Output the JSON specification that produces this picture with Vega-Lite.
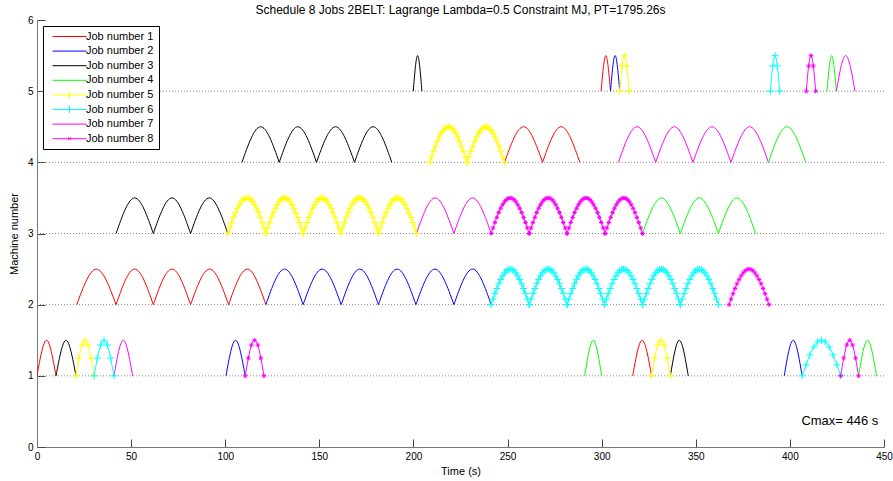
{
"$schema": "https://vega.github.io/schema/vega-lite/v6.json",
"width": 847, "height": 427,
"autosize": "none",
"padding": {"left": 37, "top": 20, "right": 9, "bottom": 34},
"background": "#ffffff",
"title": {"text": "Schedule 8 Jobs 2BELT: Lagrange Lambda=0.5 Constraint MJ, PT=1795.26s", "fontSize": 12, "fontWeight": "normal", "font": "Liberation Sans", "color": "#000000", "offset": -2, "anchor": "middle", "frame": "group"},
"config": {
 "view": {"stroke": null},
 "font": "Liberation Sans",
 "axis": {"domainColor": "#777777", "domainWidth": 1, "tickColor": "#444444", "tickSize": -8, "labelPadding": 12, "labelFontSize": 10, "labelColor": "#000000", "labelFont": "Liberation Sans", "titleFont": "Liberation Sans", "titleFontSize": 11, "titleFontWeight": "normal", "titleColor": "#000000", "grid": false, "labelFlush": false}
},
"data": {"values": [
{"a":1,"j":1,"x":0,"y":1},{"a":1,"j":1,"x":5.05,"y":1.5},{"a":1,"j":1,"x":10.1,"y":1},
{"a":2,"j":3,"x":10.1,"y":1},{"a":2,"j":3,"x":15.4,"y":1.5},{"a":2,"j":3,"x":20.7,"y":1},
{"a":3,"j":5,"x":20.7,"y":1},{"a":3,"j":5,"x":22.3,"y":1.25},{"a":3,"j":5,"x":23.9,"y":1.433},{"a":3,"j":5,"x":25.5,"y":1.5},{"a":3,"j":5,"x":27.1,"y":1.433},{"a":3,"j":5,"x":28.7,"y":1.25},{"a":3,"j":5,"x":30.3,"y":1},
{"a":4,"j":6,"x":30.3,"y":1},{"a":4,"j":6,"x":32.1,"y":1.25},{"a":4,"j":6,"x":33.8,"y":1.433},{"a":4,"j":6,"x":35.6,"y":1.5},{"a":4,"j":6,"x":37.4,"y":1.433},{"a":4,"j":6,"x":39.1,"y":1.25},{"a":4,"j":6,"x":40.9,"y":1},
{"a":5,"j":7,"x":40.9,"y":1},{"a":5,"j":7,"x":45.85,"y":1.5},{"a":5,"j":7,"x":50.8,"y":1},
{"a":6,"j":2,"x":100.4,"y":1},{"a":6,"j":2,"x":105.5,"y":1.5},{"a":6,"j":2,"x":110.6,"y":1},
{"a":7,"j":8,"x":110.6,"y":1},{"a":7,"j":8,"x":112.3,"y":1.25},{"a":7,"j":8,"x":113.9,"y":1.433},{"a":7,"j":8,"x":115.6,"y":1.5},{"a":7,"j":8,"x":117.3,"y":1.433},{"a":7,"j":8,"x":118.9,"y":1.25},{"a":7,"j":8,"x":120.6,"y":1},
{"a":8,"j":4,"x":291,"y":1},{"a":8,"j":4,"x":295.5,"y":1.5},{"a":8,"j":4,"x":300,"y":1},
{"a":9,"j":1,"x":316.5,"y":1},{"a":9,"j":1,"x":321.5,"y":1.5},{"a":9,"j":1,"x":326.5,"y":1},
{"a":10,"j":5,"x":326.5,"y":1},{"a":10,"j":5,"x":328.2,"y":1.25},{"a":10,"j":5,"x":329.8,"y":1.433},{"a":10,"j":5,"x":331.5,"y":1.5},{"a":10,"j":5,"x":333.2,"y":1.433},{"a":10,"j":5,"x":334.8,"y":1.25},{"a":10,"j":5,"x":336.5,"y":1},
{"a":11,"j":3,"x":336.5,"y":1},{"a":11,"j":3,"x":341.25,"y":1.5},{"a":11,"j":3,"x":346,"y":1},
{"a":12,"j":2,"x":397,"y":1},{"a":12,"j":2,"x":401.75,"y":1.5},{"a":12,"j":2,"x":406.5,"y":1},
{"a":13,"j":6,"x":406.5,"y":1},{"a":13,"j":6,"x":408.6,"y":1.155},{"a":13,"j":6,"x":410.6,"y":1.294},{"a":13,"j":6,"x":412.7,"y":1.405},{"a":13,"j":6,"x":414.7,"y":1.476},{"a":13,"j":6,"x":416.8,"y":1.5},{"a":13,"j":6,"x":418.8,"y":1.476},{"a":13,"j":6,"x":420.9,"y":1.405},{"a":13,"j":6,"x":422.9,"y":1.294},{"a":13,"j":6,"x":425.0,"y":1.155},{"a":13,"j":6,"x":427.0,"y":1},
{"a":14,"j":8,"x":427,"y":1},{"a":14,"j":8,"x":428.6,"y":1.25},{"a":14,"j":8,"x":430.2,"y":1.433},{"a":14,"j":8,"x":431.8,"y":1.5},{"a":14,"j":8,"x":433.3,"y":1.433},{"a":14,"j":8,"x":434.9,"y":1.25},{"a":14,"j":8,"x":436.5,"y":1},
{"a":15,"j":4,"x":436.5,"y":1},{"a":15,"j":4,"x":441.25,"y":1.5},{"a":15,"j":4,"x":446,"y":1},
{"a":16,"j":1,"x":21.1,"y":2},{"a":16,"j":1,"x":31.55,"y":2.5},{"a":16,"j":1,"x":42,"y":2},
{"a":17,"j":1,"x":42,"y":2},{"a":17,"j":1,"x":51.9,"y":2.5},{"a":17,"j":1,"x":61.8,"y":2},
{"a":18,"j":1,"x":61.8,"y":2},{"a":18,"j":1,"x":71.7,"y":2.5},{"a":18,"j":1,"x":81.6,"y":2},
{"a":19,"j":1,"x":81.6,"y":2},{"a":19,"j":1,"x":91.7,"y":2.5},{"a":19,"j":1,"x":101.8,"y":2},
{"a":20,"j":1,"x":101.8,"y":2},{"a":20,"j":1,"x":111.7,"y":2.5},{"a":20,"j":1,"x":121.6,"y":2},
{"a":21,"j":2,"x":121.6,"y":2},{"a":21,"j":2,"x":131.5,"y":2.5},{"a":21,"j":2,"x":141.4,"y":2},
{"a":22,"j":2,"x":141.4,"y":2},{"a":22,"j":2,"x":151.5,"y":2.5},{"a":22,"j":2,"x":161.6,"y":2},
{"a":23,"j":2,"x":161.6,"y":2},{"a":23,"j":2,"x":171.5,"y":2.5},{"a":23,"j":2,"x":181.4,"y":2},
{"a":24,"j":2,"x":181.4,"y":2},{"a":24,"j":2,"x":191.35,"y":2.5},{"a":24,"j":2,"x":201.3,"y":2},
{"a":25,"j":2,"x":201.3,"y":2},{"a":25,"j":2,"x":211.4,"y":2.5},{"a":25,"j":2,"x":221.5,"y":2},
{"a":26,"j":2,"x":221.5,"y":2},{"a":26,"j":2,"x":231.4,"y":2.5},{"a":26,"j":2,"x":241.3,"y":2},
{"a":27,"j":6,"x":241.3,"y":2},{"a":27,"j":6,"x":242.3,"y":2.078},{"a":27,"j":6,"x":243.3,"y":2.155},{"a":27,"j":6,"x":244.3,"y":2.227},{"a":27,"j":6,"x":245.3,"y":2.294},{"a":27,"j":6,"x":246.35,"y":2.354},{"a":27,"j":6,"x":247.4,"y":2.405},{"a":27,"j":6,"x":248.4,"y":2.446},{"a":27,"j":6,"x":249.4,"y":2.476},{"a":27,"j":6,"x":250.4,"y":2.494},{"a":27,"j":6,"x":251.4,"y":2.5},{"a":27,"j":6,"x":252.4,"y":2.494},{"a":27,"j":6,"x":253.4,"y":2.476},{"a":27,"j":6,"x":254.4,"y":2.446},{"a":27,"j":6,"x":255.4,"y":2.405},{"a":27,"j":6,"x":256.45,"y":2.354},{"a":27,"j":6,"x":257.5,"y":2.294},{"a":27,"j":6,"x":258.5,"y":2.227},{"a":27,"j":6,"x":259.5,"y":2.155},{"a":27,"j":6,"x":260.5,"y":2.078},{"a":27,"j":6,"x":261.5,"y":2},
{"a":28,"j":6,"x":261.5,"y":2},{"a":28,"j":6,"x":262.5,"y":2.078},{"a":28,"j":6,"x":263.5,"y":2.155},{"a":28,"j":6,"x":264.5,"y":2.227},{"a":28,"j":6,"x":265.5,"y":2.294},{"a":28,"j":6,"x":266.5,"y":2.354},{"a":28,"j":6,"x":267.5,"y":2.405},{"a":28,"j":6,"x":268.5,"y":2.446},{"a":28,"j":6,"x":269.5,"y":2.476},{"a":28,"j":6,"x":270.55,"y":2.494},{"a":28,"j":6,"x":271.6,"y":2.5},{"a":28,"j":6,"x":272.6,"y":2.494},{"a":28,"j":6,"x":273.6,"y":2.476},{"a":28,"j":6,"x":274.6,"y":2.446},{"a":28,"j":6,"x":275.6,"y":2.405},{"a":28,"j":6,"x":276.6,"y":2.354},{"a":28,"j":6,"x":277.6,"y":2.294},{"a":28,"j":6,"x":278.6,"y":2.227},{"a":28,"j":6,"x":279.6,"y":2.155},{"a":28,"j":6,"x":280.6,"y":2.078},{"a":28,"j":6,"x":281.6,"y":2},
{"a":29,"j":6,"x":281.6,"y":2},{"a":29,"j":6,"x":282.6,"y":2.078},{"a":29,"j":6,"x":283.6,"y":2.155},{"a":29,"j":6,"x":284.6,"y":2.227},{"a":29,"j":6,"x":285.6,"y":2.294},{"a":29,"j":6,"x":286.6,"y":2.354},{"a":29,"j":6,"x":287.6,"y":2.405},{"a":29,"j":6,"x":288.6,"y":2.446},{"a":29,"j":6,"x":289.6,"y":2.476},{"a":29,"j":6,"x":290.6,"y":2.494},{"a":29,"j":6,"x":291.6,"y":2.5},{"a":29,"j":6,"x":292.55,"y":2.494},{"a":29,"j":6,"x":293.5,"y":2.476},{"a":29,"j":6,"x":294.5,"y":2.446},{"a":29,"j":6,"x":295.5,"y":2.405},{"a":29,"j":6,"x":296.5,"y":2.354},{"a":29,"j":6,"x":297.5,"y":2.294},{"a":29,"j":6,"x":298.5,"y":2.227},{"a":29,"j":6,"x":299.5,"y":2.155},{"a":29,"j":6,"x":300.5,"y":2.078},{"a":29,"j":6,"x":301.5,"y":2},
{"a":30,"j":6,"x":301.5,"y":2},{"a":30,"j":6,"x":302.5,"y":2.078},{"a":30,"j":6,"x":303.5,"y":2.155},{"a":30,"j":6,"x":304.5,"y":2.227},{"a":30,"j":6,"x":305.5,"y":2.294},{"a":30,"j":6,"x":306.55,"y":2.354},{"a":30,"j":6,"x":307.6,"y":2.405},{"a":30,"j":6,"x":308.6,"y":2.446},{"a":30,"j":6,"x":309.6,"y":2.476},{"a":30,"j":6,"x":310.6,"y":2.494},{"a":30,"j":6,"x":311.6,"y":2.5},{"a":30,"j":6,"x":312.6,"y":2.494},{"a":30,"j":6,"x":313.6,"y":2.476},{"a":30,"j":6,"x":314.6,"y":2.446},{"a":30,"j":6,"x":315.6,"y":2.405},{"a":30,"j":6,"x":316.65,"y":2.354},{"a":30,"j":6,"x":317.7,"y":2.294},{"a":30,"j":6,"x":318.7,"y":2.227},{"a":30,"j":6,"x":319.7,"y":2.155},{"a":30,"j":6,"x":320.7,"y":2.078},{"a":30,"j":6,"x":321.7,"y":2},
{"a":31,"j":6,"x":321.7,"y":2},{"a":31,"j":6,"x":322.7,"y":2.078},{"a":31,"j":6,"x":323.7,"y":2.155},{"a":31,"j":6,"x":324.7,"y":2.227},{"a":31,"j":6,"x":325.7,"y":2.294},{"a":31,"j":6,"x":326.7,"y":2.354},{"a":31,"j":6,"x":327.7,"y":2.405},{"a":31,"j":6,"x":328.7,"y":2.446},{"a":31,"j":6,"x":329.7,"y":2.476},{"a":31,"j":6,"x":330.75,"y":2.494},{"a":31,"j":6,"x":331.8,"y":2.5},{"a":31,"j":6,"x":332.8,"y":2.494},{"a":31,"j":6,"x":333.8,"y":2.476},{"a":31,"j":6,"x":334.8,"y":2.446},{"a":31,"j":6,"x":335.8,"y":2.405},{"a":31,"j":6,"x":336.8,"y":2.354},{"a":31,"j":6,"x":337.8,"y":2.294},{"a":31,"j":6,"x":338.8,"y":2.227},{"a":31,"j":6,"x":339.8,"y":2.155},{"a":31,"j":6,"x":340.8,"y":2.078},{"a":31,"j":6,"x":341.8,"y":2},
{"a":32,"j":6,"x":341.8,"y":2},{"a":32,"j":6,"x":342.8,"y":2.078},{"a":32,"j":6,"x":343.8,"y":2.155},{"a":32,"j":6,"x":344.8,"y":2.227},{"a":32,"j":6,"x":345.8,"y":2.294},{"a":32,"j":6,"x":346.85,"y":2.354},{"a":32,"j":6,"x":347.9,"y":2.405},{"a":32,"j":6,"x":348.9,"y":2.446},{"a":32,"j":6,"x":349.9,"y":2.476},{"a":32,"j":6,"x":350.9,"y":2.494},{"a":32,"j":6,"x":351.9,"y":2.5},{"a":32,"j":6,"x":352.9,"y":2.494},{"a":32,"j":6,"x":353.9,"y":2.476},{"a":32,"j":6,"x":354.9,"y":2.446},{"a":32,"j":6,"x":355.9,"y":2.405},{"a":32,"j":6,"x":356.95,"y":2.354},{"a":32,"j":6,"x":358.0,"y":2.294},{"a":32,"j":6,"x":359.0,"y":2.227},{"a":32,"j":6,"x":360.0,"y":2.155},{"a":32,"j":6,"x":361.0,"y":2.078},{"a":32,"j":6,"x":362.0,"y":2},
{"a":33,"j":8,"x":367.7,"y":2},{"a":33,"j":8,"x":368.75,"y":2.078},{"a":33,"j":8,"x":369.8,"y":2.155},{"a":33,"j":8,"x":370.85,"y":2.227},{"a":33,"j":8,"x":371.9,"y":2.294},{"a":33,"j":8,"x":373.0,"y":2.354},{"a":33,"j":8,"x":374.1,"y":2.405},{"a":33,"j":8,"x":375.15,"y":2.446},{"a":33,"j":8,"x":376.2,"y":2.476},{"a":33,"j":8,"x":377.25,"y":2.494},{"a":33,"j":8,"x":378.3,"y":2.5},{"a":33,"j":8,"x":379.35,"y":2.494},{"a":33,"j":8,"x":380.4,"y":2.476},{"a":33,"j":8,"x":381.45,"y":2.446},{"a":33,"j":8,"x":382.5,"y":2.405},{"a":33,"j":8,"x":383.6,"y":2.354},{"a":33,"j":8,"x":384.7,"y":2.294},{"a":33,"j":8,"x":385.75,"y":2.227},{"a":33,"j":8,"x":386.8,"y":2.155},{"a":33,"j":8,"x":387.85,"y":2.078},{"a":33,"j":8,"x":388.9,"y":2},
{"a":34,"j":3,"x":42,"y":3},{"a":34,"j":3,"x":51.9,"y":3.5},{"a":34,"j":3,"x":61.8,"y":3},
{"a":35,"j":3,"x":61.8,"y":3},{"a":35,"j":3,"x":71.7,"y":3.5},{"a":35,"j":3,"x":81.6,"y":3},
{"a":36,"j":3,"x":81.6,"y":3},{"a":36,"j":3,"x":91.5,"y":3.5},{"a":36,"j":3,"x":101.4,"y":3},
{"a":37,"j":5,"x":101.4,"y":3},{"a":37,"j":5,"x":102.4,"y":3.078},{"a":37,"j":5,"x":103.4,"y":3.155},{"a":37,"j":5,"x":104.4,"y":3.227},{"a":37,"j":5,"x":105.4,"y":3.294},{"a":37,"j":5,"x":106.45,"y":3.354},{"a":37,"j":5,"x":107.5,"y":3.405},{"a":37,"j":5,"x":108.5,"y":3.446},{"a":37,"j":5,"x":109.5,"y":3.476},{"a":37,"j":5,"x":110.5,"y":3.494},{"a":37,"j":5,"x":111.5,"y":3.5},{"a":37,"j":5,"x":112.5,"y":3.494},{"a":37,"j":5,"x":113.5,"y":3.476},{"a":37,"j":5,"x":114.5,"y":3.446},{"a":37,"j":5,"x":115.5,"y":3.405},{"a":37,"j":5,"x":116.55,"y":3.354},{"a":37,"j":5,"x":117.6,"y":3.294},{"a":37,"j":5,"x":118.6,"y":3.227},{"a":37,"j":5,"x":119.6,"y":3.155},{"a":37,"j":5,"x":120.6,"y":3.078},{"a":37,"j":5,"x":121.6,"y":3},
{"a":38,"j":5,"x":121.6,"y":3},{"a":38,"j":5,"x":122.6,"y":3.078},{"a":38,"j":5,"x":123.6,"y":3.155},{"a":38,"j":5,"x":124.6,"y":3.227},{"a":38,"j":5,"x":125.6,"y":3.294},{"a":38,"j":5,"x":126.55,"y":3.354},{"a":38,"j":5,"x":127.5,"y":3.405},{"a":38,"j":5,"x":128.5,"y":3.446},{"a":38,"j":5,"x":129.5,"y":3.476},{"a":38,"j":5,"x":130.5,"y":3.494},{"a":38,"j":5,"x":131.5,"y":3.5},{"a":38,"j":5,"x":132.5,"y":3.494},{"a":38,"j":5,"x":133.5,"y":3.476},{"a":38,"j":5,"x":134.5,"y":3.446},{"a":38,"j":5,"x":135.5,"y":3.405},{"a":38,"j":5,"x":136.45,"y":3.354},{"a":38,"j":5,"x":137.4,"y":3.294},{"a":38,"j":5,"x":138.4,"y":3.227},{"a":38,"j":5,"x":139.4,"y":3.155},{"a":38,"j":5,"x":140.4,"y":3.078},{"a":38,"j":5,"x":141.4,"y":3},
{"a":39,"j":5,"x":141.4,"y":3},{"a":39,"j":5,"x":142.4,"y":3.078},{"a":39,"j":5,"x":143.4,"y":3.155},{"a":39,"j":5,"x":144.4,"y":3.227},{"a":39,"j":5,"x":145.4,"y":3.294},{"a":39,"j":5,"x":146.4,"y":3.354},{"a":39,"j":5,"x":147.4,"y":3.405},{"a":39,"j":5,"x":148.4,"y":3.446},{"a":39,"j":5,"x":149.4,"y":3.476},{"a":39,"j":5,"x":150.4,"y":3.494},{"a":39,"j":5,"x":151.4,"y":3.5},{"a":39,"j":5,"x":152.35,"y":3.494},{"a":39,"j":5,"x":153.3,"y":3.476},{"a":39,"j":5,"x":154.3,"y":3.446},{"a":39,"j":5,"x":155.3,"y":3.405},{"a":39,"j":5,"x":156.3,"y":3.354},{"a":39,"j":5,"x":157.3,"y":3.294},{"a":39,"j":5,"x":158.3,"y":3.227},{"a":39,"j":5,"x":159.3,"y":3.155},{"a":39,"j":5,"x":160.3,"y":3.078},{"a":39,"j":5,"x":161.3,"y":3},
{"a":40,"j":5,"x":161.3,"y":3},{"a":40,"j":5,"x":162.3,"y":3.078},{"a":40,"j":5,"x":163.3,"y":3.155},{"a":40,"j":5,"x":164.3,"y":3.227},{"a":40,"j":5,"x":165.3,"y":3.294},{"a":40,"j":5,"x":166.3,"y":3.354},{"a":40,"j":5,"x":167.3,"y":3.405},{"a":40,"j":5,"x":168.3,"y":3.446},{"a":40,"j":5,"x":169.3,"y":3.476},{"a":40,"j":5,"x":170.35,"y":3.494},{"a":40,"j":5,"x":171.4,"y":3.5},{"a":40,"j":5,"x":172.4,"y":3.494},{"a":40,"j":5,"x":173.4,"y":3.476},{"a":40,"j":5,"x":174.4,"y":3.446},{"a":40,"j":5,"x":175.4,"y":3.405},{"a":40,"j":5,"x":176.4,"y":3.354},{"a":40,"j":5,"x":177.4,"y":3.294},{"a":40,"j":5,"x":178.4,"y":3.227},{"a":40,"j":5,"x":179.4,"y":3.155},{"a":40,"j":5,"x":180.4,"y":3.078},{"a":40,"j":5,"x":181.4,"y":3},
{"a":41,"j":5,"x":181.4,"y":3},{"a":41,"j":5,"x":182.4,"y":3.078},{"a":41,"j":5,"x":183.4,"y":3.155},{"a":41,"j":5,"x":184.4,"y":3.227},{"a":41,"j":5,"x":185.4,"y":3.294},{"a":41,"j":5,"x":186.45,"y":3.354},{"a":41,"j":5,"x":187.5,"y":3.405},{"a":41,"j":5,"x":188.5,"y":3.446},{"a":41,"j":5,"x":189.5,"y":3.476},{"a":41,"j":5,"x":190.5,"y":3.494},{"a":41,"j":5,"x":191.5,"y":3.5},{"a":41,"j":5,"x":192.5,"y":3.494},{"a":41,"j":5,"x":193.5,"y":3.476},{"a":41,"j":5,"x":194.5,"y":3.446},{"a":41,"j":5,"x":195.5,"y":3.405},{"a":41,"j":5,"x":196.55,"y":3.354},{"a":41,"j":5,"x":197.6,"y":3.294},{"a":41,"j":5,"x":198.6,"y":3.227},{"a":41,"j":5,"x":199.6,"y":3.155},{"a":41,"j":5,"x":200.6,"y":3.078},{"a":41,"j":5,"x":201.6,"y":3},
{"a":42,"j":7,"x":201.6,"y":3},{"a":42,"j":7,"x":211.55,"y":3.5},{"a":42,"j":7,"x":221.5,"y":3},
{"a":43,"j":7,"x":221.5,"y":3},{"a":43,"j":7,"x":231.4,"y":3.5},{"a":43,"j":7,"x":241.3,"y":3},
{"a":44,"j":8,"x":241.3,"y":3},{"a":44,"j":8,"x":242.3,"y":3.078},{"a":44,"j":8,"x":243.3,"y":3.155},{"a":44,"j":8,"x":244.3,"y":3.227},{"a":44,"j":8,"x":245.3,"y":3.294},{"a":44,"j":8,"x":246.35,"y":3.354},{"a":44,"j":8,"x":247.4,"y":3.405},{"a":44,"j":8,"x":248.4,"y":3.446},{"a":44,"j":8,"x":249.4,"y":3.476},{"a":44,"j":8,"x":250.4,"y":3.494},{"a":44,"j":8,"x":251.4,"y":3.5},{"a":44,"j":8,"x":252.4,"y":3.494},{"a":44,"j":8,"x":253.4,"y":3.476},{"a":44,"j":8,"x":254.4,"y":3.446},{"a":44,"j":8,"x":255.4,"y":3.405},{"a":44,"j":8,"x":256.45,"y":3.354},{"a":44,"j":8,"x":257.5,"y":3.294},{"a":44,"j":8,"x":258.5,"y":3.227},{"a":44,"j":8,"x":259.5,"y":3.155},{"a":44,"j":8,"x":260.5,"y":3.078},{"a":44,"j":8,"x":261.5,"y":3},
{"a":45,"j":8,"x":261.5,"y":3},{"a":45,"j":8,"x":262.5,"y":3.078},{"a":45,"j":8,"x":263.5,"y":3.155},{"a":45,"j":8,"x":264.5,"y":3.227},{"a":45,"j":8,"x":265.5,"y":3.294},{"a":45,"j":8,"x":266.5,"y":3.354},{"a":45,"j":8,"x":267.5,"y":3.405},{"a":45,"j":8,"x":268.5,"y":3.446},{"a":45,"j":8,"x":269.5,"y":3.476},{"a":45,"j":8,"x":270.55,"y":3.494},{"a":45,"j":8,"x":271.6,"y":3.5},{"a":45,"j":8,"x":272.6,"y":3.494},{"a":45,"j":8,"x":273.6,"y":3.476},{"a":45,"j":8,"x":274.6,"y":3.446},{"a":45,"j":8,"x":275.6,"y":3.405},{"a":45,"j":8,"x":276.6,"y":3.354},{"a":45,"j":8,"x":277.6,"y":3.294},{"a":45,"j":8,"x":278.6,"y":3.227},{"a":45,"j":8,"x":279.6,"y":3.155},{"a":45,"j":8,"x":280.6,"y":3.078},{"a":45,"j":8,"x":281.6,"y":3},
{"a":46,"j":8,"x":281.6,"y":3},{"a":46,"j":8,"x":282.6,"y":3.078},{"a":46,"j":8,"x":283.6,"y":3.155},{"a":46,"j":8,"x":284.6,"y":3.227},{"a":46,"j":8,"x":285.6,"y":3.294},{"a":46,"j":8,"x":286.65,"y":3.354},{"a":46,"j":8,"x":287.7,"y":3.405},{"a":46,"j":8,"x":288.7,"y":3.446},{"a":46,"j":8,"x":289.7,"y":3.476},{"a":46,"j":8,"x":290.7,"y":3.494},{"a":46,"j":8,"x":291.7,"y":3.5},{"a":46,"j":8,"x":292.7,"y":3.494},{"a":46,"j":8,"x":293.7,"y":3.476},{"a":46,"j":8,"x":294.7,"y":3.446},{"a":46,"j":8,"x":295.7,"y":3.405},{"a":46,"j":8,"x":296.75,"y":3.354},{"a":46,"j":8,"x":297.8,"y":3.294},{"a":46,"j":8,"x":298.8,"y":3.227},{"a":46,"j":8,"x":299.8,"y":3.155},{"a":46,"j":8,"x":300.8,"y":3.078},{"a":46,"j":8,"x":301.8,"y":3},
{"a":47,"j":8,"x":301.8,"y":3},{"a":47,"j":8,"x":302.8,"y":3.078},{"a":47,"j":8,"x":303.8,"y":3.155},{"a":47,"j":8,"x":304.8,"y":3.227},{"a":47,"j":8,"x":305.8,"y":3.294},{"a":47,"j":8,"x":306.8,"y":3.354},{"a":47,"j":8,"x":307.8,"y":3.405},{"a":47,"j":8,"x":308.8,"y":3.446},{"a":47,"j":8,"x":309.8,"y":3.476},{"a":47,"j":8,"x":310.8,"y":3.494},{"a":47,"j":8,"x":311.8,"y":3.5},{"a":47,"j":8,"x":312.75,"y":3.494},{"a":47,"j":8,"x":313.7,"y":3.476},{"a":47,"j":8,"x":314.7,"y":3.446},{"a":47,"j":8,"x":315.7,"y":3.405},{"a":47,"j":8,"x":316.7,"y":3.354},{"a":47,"j":8,"x":317.7,"y":3.294},{"a":47,"j":8,"x":318.7,"y":3.227},{"a":47,"j":8,"x":319.7,"y":3.155},{"a":47,"j":8,"x":320.7,"y":3.078},{"a":47,"j":8,"x":321.7,"y":3},
{"a":48,"j":4,"x":321.7,"y":3},{"a":48,"j":4,"x":331.75,"y":3.5},{"a":48,"j":4,"x":341.8,"y":3},
{"a":49,"j":4,"x":341.8,"y":3},{"a":49,"j":4,"x":351.9,"y":3.5},{"a":49,"j":4,"x":362,"y":3},
{"a":50,"j":4,"x":362,"y":3},{"a":50,"j":4,"x":371.9,"y":3.5},{"a":50,"j":4,"x":381.8,"y":3},
{"a":51,"j":3,"x":108.9,"y":4},{"a":51,"j":3,"x":118.8,"y":4.5},{"a":51,"j":3,"x":128.7,"y":4},
{"a":52,"j":3,"x":128.7,"y":4},{"a":52,"j":3,"x":138.6,"y":4.5},{"a":52,"j":3,"x":148.5,"y":4},
{"a":53,"j":3,"x":148.5,"y":4},{"a":53,"j":3,"x":158.6,"y":4.5},{"a":53,"j":3,"x":168.7,"y":4},
{"a":54,"j":3,"x":168.7,"y":4},{"a":54,"j":3,"x":178.6,"y":4.5},{"a":54,"j":3,"x":188.5,"y":4},
{"a":55,"j":5,"x":208.7,"y":4},{"a":55,"j":5,"x":209.7,"y":4.078},{"a":55,"j":5,"x":210.7,"y":4.155},{"a":55,"j":5,"x":211.7,"y":4.227},{"a":55,"j":5,"x":212.7,"y":4.294},{"a":55,"j":5,"x":213.65,"y":4.354},{"a":55,"j":5,"x":214.6,"y":4.405},{"a":55,"j":5,"x":215.6,"y":4.446},{"a":55,"j":5,"x":216.6,"y":4.476},{"a":55,"j":5,"x":217.6,"y":4.494},{"a":55,"j":5,"x":218.6,"y":4.5},{"a":55,"j":5,"x":219.6,"y":4.494},{"a":55,"j":5,"x":220.6,"y":4.476},{"a":55,"j":5,"x":221.6,"y":4.446},{"a":55,"j":5,"x":222.6,"y":4.405},{"a":55,"j":5,"x":223.55,"y":4.354},{"a":55,"j":5,"x":224.5,"y":4.294},{"a":55,"j":5,"x":225.5,"y":4.227},{"a":55,"j":5,"x":226.5,"y":4.155},{"a":55,"j":5,"x":227.5,"y":4.078},{"a":55,"j":5,"x":228.5,"y":4},
{"a":56,"j":5,"x":228.5,"y":4},{"a":56,"j":5,"x":229.5,"y":4.078},{"a":56,"j":5,"x":230.5,"y":4.155},{"a":56,"j":5,"x":231.5,"y":4.227},{"a":56,"j":5,"x":232.5,"y":4.294},{"a":56,"j":5,"x":233.5,"y":4.354},{"a":56,"j":5,"x":234.5,"y":4.405},{"a":56,"j":5,"x":235.5,"y":4.446},{"a":56,"j":5,"x":236.5,"y":4.476},{"a":56,"j":5,"x":237.5,"y":4.494},{"a":56,"j":5,"x":238.5,"y":4.5},{"a":56,"j":5,"x":239.45,"y":4.494},{"a":56,"j":5,"x":240.4,"y":4.476},{"a":56,"j":5,"x":241.4,"y":4.446},{"a":56,"j":5,"x":242.4,"y":4.405},{"a":56,"j":5,"x":243.4,"y":4.354},{"a":56,"j":5,"x":244.4,"y":4.294},{"a":56,"j":5,"x":245.4,"y":4.227},{"a":56,"j":5,"x":246.4,"y":4.155},{"a":56,"j":5,"x":247.4,"y":4.078},{"a":56,"j":5,"x":248.4,"y":4},
{"a":57,"j":1,"x":248.4,"y":4},{"a":57,"j":1,"x":258.5,"y":4.5},{"a":57,"j":1,"x":268.6,"y":4},
{"a":58,"j":1,"x":268.6,"y":4},{"a":58,"j":1,"x":278.5,"y":4.5},{"a":58,"j":1,"x":288.4,"y":4},
{"a":59,"j":7,"x":308.9,"y":4},{"a":59,"j":7,"x":318.8,"y":4.5},{"a":59,"j":7,"x":328.7,"y":4},
{"a":60,"j":7,"x":328.7,"y":4},{"a":60,"j":7,"x":338.6,"y":4.5},{"a":60,"j":7,"x":348.5,"y":4},
{"a":61,"j":7,"x":348.5,"y":4},{"a":61,"j":7,"x":358.6,"y":4.5},{"a":61,"j":7,"x":368.7,"y":4},
{"a":62,"j":7,"x":368.7,"y":4},{"a":62,"j":7,"x":378.65,"y":4.5},{"a":62,"j":7,"x":388.6,"y":4},
{"a":63,"j":4,"x":388.6,"y":4},{"a":63,"j":4,"x":398.5,"y":4.5},{"a":63,"j":4,"x":408.4,"y":4},
{"a":64,"j":3,"x":199.9,"y":5},{"a":64,"j":3,"x":202.2,"y":5.5},{"a":64,"j":3,"x":204.5,"y":5},
{"a":65,"j":1,"x":299.7,"y":5},{"a":65,"j":1,"x":302.2,"y":5.5},{"a":65,"j":1,"x":304.7,"y":5},
{"a":66,"j":2,"x":304.7,"y":5},{"a":66,"j":2,"x":307.15,"y":5.5},{"a":66,"j":2,"x":309.6,"y":5},
{"a":67,"j":5,"x":309.6,"y":5},{"a":67,"j":5,"x":310.85,"y":5.354},{"a":67,"j":5,"x":312.1,"y":5.5},{"a":67,"j":5,"x":313.35,"y":5.354},{"a":67,"j":5,"x":314.6,"y":5},
{"a":68,"j":6,"x":389.6,"y":5},{"a":68,"j":6,"x":390.85,"y":5.354},{"a":68,"j":6,"x":392.1,"y":5.5},{"a":68,"j":6,"x":393.35,"y":5.354},{"a":68,"j":6,"x":394.6,"y":5},
{"a":69,"j":8,"x":408.7,"y":5},{"a":69,"j":8,"x":409.95,"y":5.354},{"a":69,"j":8,"x":411.2,"y":5.5},{"a":69,"j":8,"x":412.45,"y":5.354},{"a":69,"j":8,"x":413.7,"y":5},
{"a":70,"j":4,"x":419.7,"y":5},{"a":70,"j":4,"x":422.2,"y":5.5},{"a":70,"j":4,"x":424.7,"y":5},
{"a":71,"j":7,"x":424.7,"y":5},{"a":71,"j":7,"x":429.65,"y":5.5},{"a":71,"j":7,"x":434.6,"y":5}
]},
"layer": [
 {
  "data": {"values": [{"y":1},{"y":2},{"y":3},{"y":4},{"y":5}]},
  "mark": {"type": "rule", "color": "#8a8a8a", "strokeWidth": 1, "strokeDash": [1, 2]},
  "encoding": {
   "y": {"field": "y", "type": "quantitative", "scale": {"domain": [0, 6], "nice": false, "zero": false}, "axis": {"values": [0,1,2,3,4,5,6], "title": "Machine number", "titlePadding": 8}}
  }
 },
 {
  "mark": {"type": "line", "interpolate": "natural", "strokeWidth": 1, "clip": true},
  "encoding": {
   "x": {"field": "x", "type": "quantitative", "scale": {"domain": [0, 450], "nice": false, "zero": false}, "axis": {"values": [0,50,100,150,200,250,300,350,400,450], "title": "Time (s)", "titlePadding": 4}},
   "y": {"field": "y", "type": "quantitative", "scale": {"domain": [0, 6], "nice": false, "zero": false}, "axis": {"values": [0,1,2,3,4,5,6], "title": "Machine number", "titlePadding": 8}},
   "detail": {"field": "a", "type": "nominal"},
   "color": {"field": "j", "type": "nominal",
     "scale": {"domain": [1,2,3,4,5,6,7,8], "range": ["#ff0000","#0000ff","#000000","#00ff00","#ffff00","#00ffff","#ff00ff","#ff00ff"]},
     "legend": {"orient": "top-left", "offset": 6, "title": null, "padding": 5, "strokeColor": "#000000", "fillColor": "#ffffff",
       "labelFontSize": 11, "labelFont": "Liberation Sans", "labelColor": "#000000",
       "labelExpr": "'Job number ' + datum.label + '    '",
       "symbolSize": 16, "symbolStrokeWidth": 1, "labelOffset": 27, "rowPadding": 2.6,
       "symbolType": "M-0.5,0H16.5",
       "encode": {"symbols": {"update": {"shape": {"signal": "datum.value == 5 || datum.value == 6 ? 'M-0.5,0H16.5M8,-1.75V1.75' : datum.value == 8 ? 'M-0.5,0H16.5M7.2,-0.8L8.8,0.8M7.2,0.8L8.8,-0.8' : 'M-0.5,0H16.5'"}, "fill": {"value": "transparent"}, "opacity": {"value": 1}}}}
     }
   }
  }
 },
 {
  "transform": [{"filter": "datum.j == 5 || datum.j == 6"}],
  "mark": {"type": "point", "shape": "M-1,0H1M0,-1V1", "size": 49, "filled": false, "strokeWidth": 1, "opacity": 1, "clip": true},
  "encoding": {
   "x": {"field": "x", "type": "quantitative", "scale": {"domain": [0, 450], "nice": false, "zero": false}, "axis": {"values": [0,50,100,150,200,250,300,350,400,450], "title": "Time (s)", "titlePadding": 4}},
   "y": {"field": "y", "type": "quantitative", "scale": {"domain": [0, 6], "nice": false, "zero": false}, "axis": {"values": [0,1,2,3,4,5,6], "title": "Machine number", "titlePadding": 8}},
   "color": {"field": "j", "type": "nominal",
     "scale": {"domain": [1,2,3,4,5,6,7,8], "range": ["#ff0000","#0000ff","#000000","#00ff00","#ffff00","#00ffff","#ff00ff","#ff00ff"]},
     "legend": {"orient": "top-left", "offset": 6, "title": null, "padding": 5, "strokeColor": "#000000", "fillColor": "#ffffff",
       "labelFontSize": 11, "labelFont": "Liberation Sans", "labelColor": "#000000",
       "labelExpr": "'Job number ' + datum.label + '    '",
       "symbolSize": 16, "symbolStrokeWidth": 1, "labelOffset": 27, "rowPadding": 2.6,
       "symbolType": "M-0.5,0H16.5",
       "encode": {"symbols": {"update": {"shape": {"signal": "datum.value == 5 || datum.value == 6 ? 'M-0.5,0H16.5M8,-1.75V1.75' : datum.value == 8 ? 'M-0.5,0H16.5M7.2,-0.8L8.8,0.8M7.2,0.8L8.8,-0.8' : 'M-0.5,0H16.5'"}, "fill": {"value": "transparent"}, "opacity": {"value": 1}}}}
     }
   }
  }
 },
 {
  "transform": [{"filter": "datum.j == 8"}],
  "mark": {"type": "point", "shape": "M-1,0H1M0,-1V1M-0.7,-0.7L0.7,0.7M-0.7,0.7L0.7,-0.7", "size": 20, "filled": false, "strokeWidth": 1, "opacity": 1, "clip": true},
  "encoding": {
   "x": {"field": "x", "type": "quantitative", "scale": {"domain": [0, 450], "nice": false, "zero": false}, "axis": {"values": [0,50,100,150,200,250,300,350,400,450], "title": "Time (s)", "titlePadding": 4}},
   "y": {"field": "y", "type": "quantitative", "scale": {"domain": [0, 6], "nice": false, "zero": false}, "axis": {"values": [0,1,2,3,4,5,6], "title": "Machine number", "titlePadding": 8}},
   "color": {"field": "j", "type": "nominal",
     "scale": {"domain": [1,2,3,4,5,6,7,8], "range": ["#ff0000","#0000ff","#000000","#00ff00","#ffff00","#00ffff","#ff00ff","#ff00ff"]},
     "legend": {"orient": "top-left", "offset": 6, "title": null, "padding": 5, "strokeColor": "#000000", "fillColor": "#ffffff",
       "labelFontSize": 11, "labelFont": "Liberation Sans", "labelColor": "#000000",
       "labelExpr": "'Job number ' + datum.label + '    '",
       "symbolSize": 16, "symbolStrokeWidth": 1, "labelOffset": 27, "rowPadding": 2.6,
       "symbolType": "M-0.5,0H16.5",
       "encode": {"symbols": {"update": {"shape": {"signal": "datum.value == 5 || datum.value == 6 ? 'M-0.5,0H16.5M8,-1.75V1.75' : datum.value == 8 ? 'M-0.5,0H16.5M7.2,-0.8L8.8,0.8M7.2,0.8L8.8,-0.8' : 'M-0.5,0H16.5'"}, "fill": {"value": "transparent"}, "opacity": {"value": 1}}}}
     }
   }
  }
 },
 {
  "data": {"values": [{"x": 447, "y": 0.37, "t": "Cmax= 446 s"}]},
  "mark": {"type": "text", "align": "right", "baseline": "middle", "fontSize": 13, "font": "Liberation Sans", "color": "#000000"},
  "encoding": {
   "x": {"field": "x", "type": "quantitative", "scale": {"domain": [0, 450], "nice": false, "zero": false}, "axis": {"values": [0,50,100,150,200,250,300,350,400,450], "title": "Time (s)", "titlePadding": 4}},
   "y": {"field": "y", "type": "quantitative", "scale": {"domain": [0, 6], "nice": false, "zero": false}, "axis": {"values": [0,1,2,3,4,5,6], "title": "Machine number", "titlePadding": 8}},
   "text": {"field": "t"}
  }
 }
]
}
